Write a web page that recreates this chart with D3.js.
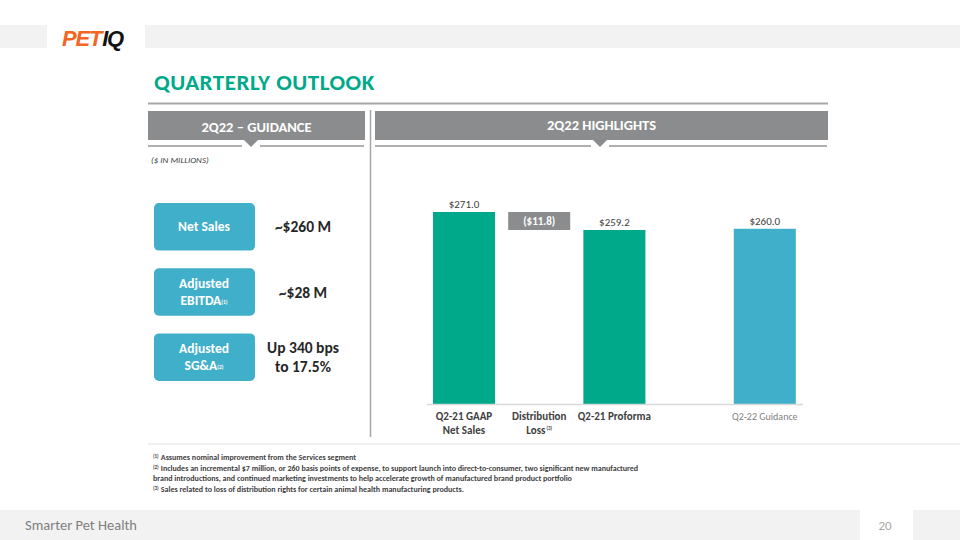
<!DOCTYPE html>
<html><head><meta charset="utf-8">
<script src="https://cdn.jsdelivr.net/npm/d3@7"></script>
<style>body{margin:0;background:#fff}svg{display:block;font-family:Calibri,Carlito,Lato,"Open Sans",sans-serif}</style>
</head><body><svg id="c" width="960" height="540"></svg>
<script>
const categories = ["Q2-21 GAAP|Net Sales", "Distribution|Loss", "Q2-21 Proforma", "Q2-22 Guidance"];
const categoryNotes = ["", "(3)", "", ""];
const barValues = [271.0, -11.8, 259.2, 260.0];
const barKinds = ["total", "delta", "total", "guidance"];
const valueLabels = ["$271.0", "($11.8)", "$259.2", "$260.0"];
const guidanceLabels = ["Net Sales", "Adjusted|EBITDA", "Adjusted|SG&A"];
const guidanceNotes = ["", "(1)", "(2)"];
const guidanceValues = ["~$260 M", "~$28 M", "Up 340 bps|to 17.5%"];
const footnotes = [
  ["(1)", "Assumes nominal improvement from the Services segment"],
  ["(2)", "Includes an incremental $7 million, or 260 basis points of expense, to support launch into direct-to-consumer, two significant new manufactured"],
  ["", "brand introductions, and continued marketing investments to help accelerate growth of manufactured brand product portfolio"],
  ["(3)", "Sales related to loss of distribution rights for certain animal health manufacturing products."]
];

const svg = d3.select("#c");
const teal = "#00a98a", blue = "#40afc9", gray = "#8a8c8e", dark = "#404040";

// top band
svg.append("rect").attr("x",0).attr("y",25).attr("width",47).attr("height",23).attr("fill","#f2f2f2");
svg.append("rect").attr("x",145).attr("y",25).attr("width",815).attr("height",23).attr("fill","#f2f2f2");
const logo = svg.append("text").attr("x",62).attr("y",46).attr("font-family","'Liberation Sans', Arial, sans-serif")
  .attr("font-weight","900").attr("font-style","italic").attr("font-size",22).attr("letter-spacing",-1.2);
logo.append("tspan").attr("fill","#f26522").text("PET");
logo.append("tspan").attr("fill","#111").attr("dx",1).text("IQ");

// title
svg.append("text").attr("x",154).attr("y",90).attr("fill",teal).attr("font-size",23).attr("font-weight","bold").attr("letter-spacing",0.5).text("QUARTERLY OUTLOOK");
svg.append("line").attr("x1",148).attr("x2",828).attr("y1",103.5).attr("y2",103.5).attr("stroke","#a6a6a6").attr("stroke-width",2);

// headers
function header(x,w,label,ty,notch){
  svg.append("rect").attr("x",x).attr("y",111).attr("width",w).attr("height",29).attr("fill",gray);
  svg.append("text").attr("x",x+w/2).attr("y",ty).attr("text-anchor","middle").attr("fill","#fff").attr("font-size",14.5).attr("font-weight","bold").text(label);
  svg.append("line").attr("x1",x).attr("x2",notch-9).attr("y1",146).attr("y2",146).attr("stroke","#b0b0b0").attr("stroke-width",2);
  svg.append("line").attr("x1",notch+9).attr("x2",x+w-1).attr("y1",146).attr("y2",146).attr("stroke","#b0b0b0").attr("stroke-width",2);
  svg.append("path").attr("d",`M${notch-7},140L${notch+7},140L${notch},147Z`).attr("fill",gray);
}
header(148,217,"2Q22 – GUIDANCE",132,251);
header(375,453,"2Q22 HIGHLIGHTS",129.5,600);
svg.append("line").attr("x1",370.5).attr("x2",370.5).attr("y1",110).attr("y2",437).attr("stroke","#a6a6a6").attr("stroke-width",1.5);
svg.append("text").attr("x",151).attr("y",163).attr("font-size",9).attr("font-style","italic").attr("fill",dark).text("($ IN MILLIONS)");

// guidance boxes
const boxY = d3.scaleBand().domain(guidanceLabels).range([203,381]).paddingInner(0.27);
guidanceLabels.forEach((g,i)=>{
  const y = boxY(g), h = boxY.bandwidth();
  svg.append("rect").attr("x",154).attr("y",y).attr("width",101).attr("height",h).attr("rx",5).attr("fill",blue);
  const lines = g.split("|");
  lines.forEach((l,j)=>{
    const t = svg.append("text").attr("x",204).attr("y",y+h/2+4.5+(j-(lines.length-1)/2)*17).attr("text-anchor","middle")
      .attr("fill","#fff").attr("font-size",13.5).attr("font-weight","bold").text(l);
    if(j===lines.length-1 && guidanceNotes[i]) t.append("tspan").attr("font-size",5.5).attr("dy",-1).text(guidanceNotes[i]);
  });
  const vl = guidanceValues[i].split("|");
  vl.forEach((l,j)=>{
    svg.append("text").attr("x",303).attr("y",y+h/2+5.5+(j-(vl.length-1)/2)*19).attr("text-anchor","middle")
      .attr("fill","#262626").attr("font-size",15.5).attr("font-weight","bold").text(l);
  });
});

// waterfall chart
const slots = [categories[0],categories[1],categories[2],"gap",categories[3]];
const x = d3.scaleBand().domain(slots).range([426.4,802.4]).paddingInner(0.175).paddingOuter(0.0875);
const y = d3.scaleLinear().domain([145.1,271]).range([404,212]);
let running = 0;
const bars = barValues.map((v,i)=>{
  let y0,y1;
  if(barKinds[i]==="delta"){ y0 = running; y1 = running+v; running = y1; }
  else { y0 = y.domain()[0]; y1 = v; running = v; }
  return {cat:categories[i], v, kind:barKinds[i], top:Math.max(y0,y1), bot:Math.min(y0,y1), label:valueLabels[i], note:categoryNotes[i]};
});
const colors = {total:teal, delta:gray, guidance:blue};
const g = svg.append("g");
g.selectAll("rect.bar").data(bars).join("rect").attr("class","bar")
  .attr("x",d=>x(d.cat)).attr("width",x.bandwidth())
  .attr("y",d=>y(d.top)).attr("height",d=>y(d.bot)-y(d.top)).attr("fill",d=>colors[d.kind]);
g.selectAll("text.val").data(bars).join("text").attr("class","val")
  .attr("x",d=>x(d.cat)+x.bandwidth()/2)
  .attr("y",d=>d.kind==="delta" ? (y(d.top)+y(d.bot))/2+4 : y(d.top)-4)
  .attr("text-anchor","middle").attr("font-size",11)
  .attr("fill",d=>d.kind==="delta"?"#fff":dark).attr("font-weight",d=>d.kind==="delta"?"bold":"normal")
  .text(d=>d.label);

const axis = d3.axisBottom(x).tickSize(0).tickFormat("");
const ag = svg.append("g").attr("transform","translate(0,404)").call(axis);
ag.select(".domain").attr("stroke","#d9d9d9").attr("stroke-width",1.5);
bars.forEach((d,i)=>{
  const lines = d.cat.split("|");
  const cx = x(d.cat)+x.bandwidth()/2;
  lines.forEach((l,j)=>{
    const t = svg.append("text").attr("x",cx).attr("y",420+j*14).attr("text-anchor","middle")
      .attr("font-size",d.kind==="guidance"?10:11).attr("font-weight",d.kind==="guidance"?"normal":"bold")
      .attr("fill",d.kind==="guidance"?"#7f7f7f":dark).text(l);
    if(j===lines.length-1 && d.note){ t.append("tspan").attr("font-size",5).attr("dy",-4).attr("dx",1).text(d.note); }
  });
});

// footnotes
svg.append("line").attr("x1",148).attr("x2",960).attr("y1",444).attr("y2",444).attr("stroke","#ececec").attr("stroke-width",1.5);
const fy = [460,471,481,492];
footnotes.forEach((f,i)=>{
  const t = svg.append("text").attr("x",153).attr("y",fy[i]).attr("font-size",8).attr("fill",dark).attr("font-weight","bold");
  if(f[0]) t.append("tspan").attr("font-size",5).attr("dy",-2.5).text(f[0]+" ");
  t.append("tspan").attr("dy",f[0]?2.5:0).attr("dx",f[0]?1:0).text(f[1]);
});

// footer
svg.append("rect").attr("x",0).attr("y",510).attr("width",860).attr("height",30).attr("fill","#f2f2f2");
svg.append("rect").attr("x",913).attr("y",510).attr("width",47).attr("height",30).attr("fill","#f2f2f2");
svg.append("text").attr("x",25).attr("y",530).attr("font-size",14.5).attr("font-weight",300).attr("fill","#7f7f7f").text("Smarter Pet Health");
svg.append("text").attr("x",885).attr("y",530).attr("text-anchor","middle").attr("font-size",13).attr("font-weight",300).attr("fill","#a6a6a6").text("20");
</script></body></html>
